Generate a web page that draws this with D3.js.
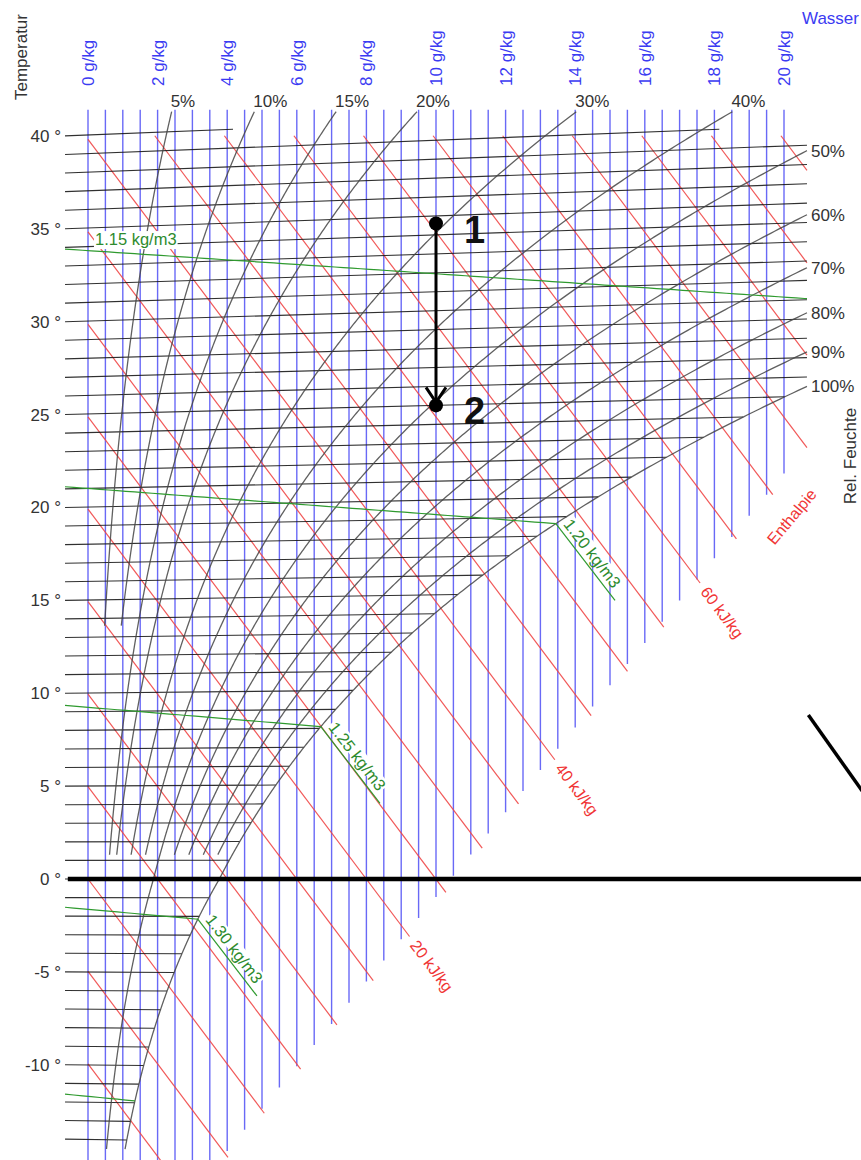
<!DOCTYPE html>
<html>
<head>
<meta charset="utf-8">
<script src="https://cdn.jsdelivr.net/npm/d3@7"></script>
<style>
  body { margin: 0; background: #fff; }
  text { font-family: Arial, "Liberation Sans", sans-serif; }
</style>
</head>
<body>
<svg id="chart" width="861" height="1160"></svg>
<script>
// ---- chart values ----
const tempLabels = [-10, -5, 0, 5, 10, 15, 20, 25, 30, 35, 40];          // °C
const waterLabels = [0, 2, 4, 6, 8, 10, 12, 14, 16, 18, 20];               // g/kg
const rhLevels = [5, 10, 15, 20, 30, 40, 50, 60, 70, 80, 90, 100];         // %
const rhStartTemp = [13.6, 13.6, 1.3, 1.3, 1.3, 1.3, -14.5, 1.3, 1.3, 1.3, 1.3, -14.5]; // lowest °C drawn
const densities = [1.15, 1.20, 1.25, 1.30, 1.35];                          // kg/m3
const enthalpyLabels = [20, 40, 60];                                       // kJ/kg
const points = [
  { name: "1", w: 10, t: 34.6 },
  { name: "2", w: 10, t: 25 }
];

// ---- chart construction constants ----
const P = 101325;          // Pa
const X_MIN = -0.66, X_MAX = 20.66;   // g/kg extent of isotherms
const T_MIN = -14, T_MAX = 40;        // isotherms every 1 °C
const Y_TOP_ISO = 40.55, Y_TOP_RH = 41.5, Y_TOP_BLUE = 41.6, Y_TOP_RED = 40.2;
const FOG_LEN = 1.7, FOG_SLOPE = 2.44;  // fog part of density lines
const boundY = w => 2.29 * w - 23.87;   // lower right cut of the grid

// psychrometric helpers (x in g/kg, Y = h - 2501*x in kJ/kg)
function ps(t) {
  return t >= 0 ? 611.2 * Math.exp(17.62 * t / (243.12 + t))
                : 611.2 * Math.exp(22.46 * t / (272.62 + t));
}
function xSat(t, phi = 1) { const pw = phi * ps(t); return 622 * pw / (P - pw); }
function Yc(t, w) { return 1.006 * t + 0.00186 * t * w; }
function densT(rho, w) { return P * (1 + w / 1000) / (287.06 * rho * (1 + 1.608 * w / 1000)) - 273.15; }
function densSat(rho) {
  let lo = 0, hi = 60;
  for (let i = 0; i < 60; i++) {
    const mid = (lo + hi) / 2;
    if (xSat(densT(rho, mid)) > mid) lo = mid; else hi = mid;
  }
  return lo;
}

const svg = d3.select("#chart");
const x = d3.scaleLinear().domain([0, 20]).range([88, 784]);
const y = d3.scaleLinear().domain([-10.06, 40.24]).range([1065, 135]);
const line = d3.line().x(d => x(d[0])).y(d => y(d[1]));

// blue water content lines
svg.append("g")
  .selectAll("line")
  .data(d3.range(0, 20.01, 0.5))
  .join("line")
    .attr("x1", d => x(d)).attr("x2", d => x(d))
    .attr("y1", y(Y_TOP_BLUE)).attr("y2", d => y(boundY(d)))
    .attr("stroke", "rgb(80,80,245)").attr("stroke-width", 1.4).attr("opacity", 0.85);

// red enthalpy lines
const enth = d3.range(-10, 91, 5).map(h => {
  const w0 = Math.max(0, (h - Y_TOP_RED) / 2.501);
  const w1 = Math.min(X_MAX, (h + 23.87 + 0.4) / 4.791);
  return { h, pts: [[w0, h - 2.501 * w0], [w1, h - 2.501 * w1]] };
}).filter(d => d.pts[0][0] < d.pts[1][0]);

svg.append("g")
  .selectAll("path")
  .data(enth)
  .join("path")
    .attr("d", d => line(d.pts))
    .attr("fill", "none").attr("stroke", "rgb(240,70,70)").attr("stroke-width", 1.2).attr("opacity", 0.9);

// black isotherms
const iso = d3.range(T_MIN, T_MAX + 1).map(t => {
  let w1 = Math.min(xSat(t), X_MAX);
  if (Yc(t, w1) > Y_TOP_ISO) w1 = (Y_TOP_ISO - 1.006 * t) / (0.00186 * t);
  return [[X_MIN, Yc(t, X_MIN)], [w1, Yc(t, w1)]];
});
svg.append("g")
  .selectAll("path")
  .data(iso)
  .join("path")
    .attr("d", line)
    .attr("fill", "none").attr("stroke", "#1a1a1a").attr("stroke-width", 1.1).attr("opacity", 0.9);

// relative humidity curves
function rhCurve(phi, tMin) {
  const pts = [];
  let edge = "top";
  for (let i = 0; i < 1000; i++) {
    const t = tMin + i * 0.1;
    const w = xSat(t, phi), Y = Yc(t, w);
    if (w > X_MAX || Y > Y_TOP_RH) {
      const p = pts[pts.length - 1];
      const fx = w > X_MAX ? (X_MAX - p[0]) / (w - p[0]) : 2;
      const fy = Y > Y_TOP_RH ? (Y_TOP_RH - p[1]) / (Y - p[1]) : 2;
      const f = Math.min(fx, fy);
      pts.push([p[0] + f * (w - p[0]), p[1] + f * (Y - p[1])]);
      edge = fx < fy ? "right" : "top";
      break;
    }
    pts.push([w, Y]);
  }
  return { phi, pts, edge };
}
const rh = rhLevels.map((r, i) => rhCurve(r / 100, rhStartTemp[i]));

svg.append("g")
  .selectAll("path")
  .data(rh)
  .join("path")
    .attr("d", d => line(d.pts))
    .attr("fill", "none").attr("stroke", "#444").attr("stroke-width", 1.3).attr("opacity", 0.85);

svg.append("g")
  .style("font-size", "17px").attr("fill", "#333")
  .selectAll("text")
  .data(rh)
  .join("text")
    .attr("x", d => { const e = d.pts[d.pts.length - 1]; return d.edge === "top" ? x(e[0]) - 1 : x(e[0]) + 4; })
    .attr("y", d => { const e = d.pts[d.pts.length - 1]; return d.edge === "top" ? 107 : y(e[1]) + 6; })
    .text(d => Math.round(d.phi * 100) + "%");

// green density lines
const dens = densities.map(rho => {
  const wSat = densSat(rho);
  const wEnd = Math.min(wSat, X_MAX);
  const pts = d3.range(X_MIN, wEnd, 0.25).concat([wEnd]).map(w => [w, Yc(densT(rho, w), w)]);
  let fog = null;
  const tSat = densT(rho, wSat);
  if (wSat < X_MAX && tSat > -10) {
    const Ys = Yc(tSat, wSat);
    fog = [[wSat, Ys], [wSat + FOG_LEN, Ys - FOG_SLOPE * FOG_LEN]];
  }
  return { rho, pts, fog, show: wSat >= X_MAX || fog };
});

const gDens = svg.append("g");
gDens.selectAll("path.d")
  .data(dens)
  .join("path")
    .attr("d", d => line(d.pts))
    .attr("fill", "none").attr("stroke", "#2f9a2f").attr("stroke-width", 1.2);

const densLab = svg.append("g")
  .selectAll("g")
  .data(dens.filter(d => d.show))
  .join("g")
    .attr("transform", d => {
      if (d.fog) {
        const [a, b] = d.fog;
        const ang = Math.atan2(y(b[1]) - y(a[1]), x(b[0]) - x(a[0])) * 180 / Math.PI;
        return `translate(${x(a[0])},${y(a[1])}) rotate(${ang})`;
      }
      const w = 0.2;
      return `translate(${x(w)},${y(Yc(densT(d.rho, w), w))})`;
    });
densLab.append("text")
  .attr("x", d => d.fog ? 5 : 0)
  .attr("y", d => d.fog ? -5 : -6)
  .style("font-size", "16.5px").attr("fill", "#2e8b2e")
  .text(d => d.rho.toFixed(2) + " kg/m3");
densLab.each(function(d) {
  const g = d3.select(this);
  const bb = g.select("text").node().getBBox();
  g.insert("rect", "text")
    .attr("x", bb.x - 1).attr("y", bb.y + 1).attr("width", bb.width + 2)
    .attr("height", d.fog ? bb.height - 5 : bb.height)
    .attr("fill", "#fff");
});

// fog parts drawn over the label boxes
svg.append("g")
  .selectAll("path")
  .data(dens.filter(d => d.fog))
  .join("path")
    .attr("d", d => line(d.fog))
    .attr("fill", "none").attr("stroke", "#2f9a2f").attr("stroke-width", 1.2);

// enthalpy labels
svg.append("g")
  .selectAll("text")
  .data(enth.filter(d => enthalpyLabels.includes(d.h)))
  .join("text")
    .attr("transform", d => {
      const [a, b] = d.pts;
      const ang = Math.atan2(y(b[1]) - y(a[1]), x(b[0]) - x(a[0])) * 180 / Math.PI;
      return `translate(${x(b[0])},${y(b[1])}) rotate(${ang})`;
    })
    .attr("x", 7).attr("dy", "0.35em")
    .style("font-size", "16px").attr("fill", "#f03535")
    .text(d => d.h + " kJ/kg");

const h70 = enth.find(d => d.h === 70).pts[1];
svg.append("text")
  .attr("transform", `translate(${x(h70[0]) + 19},${y(h70[1]) + 22}) rotate(-50)`)
  .attr("text-anchor", "middle").attr("dy", "0.35em")
  .style("font-size", "16px").attr("fill", "#f03535")
  .text("Enthalpie");

// temperature axis labels
svg.append("g")
  .style("font-size", "17px").attr("fill", "#333").attr("text-anchor", "end")
  .selectAll("text")
  .data(tempLabels)
  .join("text")
    .attr("x", 61).attr("y", d => y(Yc(d, X_MIN)) + 6)
    .text(d => d + " °");

// water content labels (read bottom to top)
svg.append("g")
  .style("font-size", "17px").attr("fill", "#3b3bf2").attr("text-anchor", "start")
  .selectAll("text")
  .data(waterLabels)
  .join("text")
    .attr("transform", d => `translate(${x(d) + 6},86) rotate(-90)`)
    .text(d => d + " g/kg");

svg.append("text")
  .attr("transform", "translate(27,100) rotate(-90)").attr("text-anchor", "start")
  .style("font-size", "17px").attr("fill", "#333").text("Temperatur");
svg.append("text")
  .attr("x", 802).attr("y", 24)
  .style("font-size", "17px").attr("fill", "#3b3bf2").text("Wasser");
svg.append("text")
  .attr("transform", "translate(856,456) rotate(-90)").attr("text-anchor", "middle")
  .style("font-size", "17px").attr("fill", "#333").text("Rel. Feuchte");

// annotations
svg.append("line")
  .attr("x1", x(-0.58)).attr("x2", x(23)).attr("y1", y(0)).attr("y2", y(0))
  .attr("stroke", "#000").attr("stroke-width", 4.5);
svg.append("line")
  .attr("x1", x(20.7)).attr("y1", y(8.87)).attr("x2", x(23)).attr("y2", y(2.76))
  .attr("stroke", "#000").attr("stroke-width", 3.5);

const pp = points.map(p => ({ ...p, px: x(p.w), py: y(Yc(p.t, p.w)) }));
svg.append("line")
  .attr("x1", pp[0].px).attr("y1", pp[0].py).attr("x2", pp[1].px).attr("y2", pp[1].py - 3)
  .attr("stroke", "#000").attr("stroke-width", 3);
svg.append("path")
  .attr("d", `M${pp[1].px - 10},${pp[1].py - 18}L${pp[1].px},${pp[1].py - 3}L${pp[1].px + 10},${pp[1].py - 18}`)
  .attr("fill", "none").attr("stroke", "#000").attr("stroke-width", 3);
svg.append("g")
  .selectAll("circle")
  .data(pp)
  .join("circle")
    .attr("cx", d => d.px).attr("cy", d => d.py).attr("r", 7).attr("fill", "#000");
svg.append("g")
  .style("font-size", "38px").style("font-weight", "bold").attr("fill", "#111")
  .selectAll("text")
  .data(pp)
  .join("text")
    .attr("x", d => d.px + 28).attr("y", d => d.py + 19)
    .text(d => d.name);
</script>
</body>
</html>
